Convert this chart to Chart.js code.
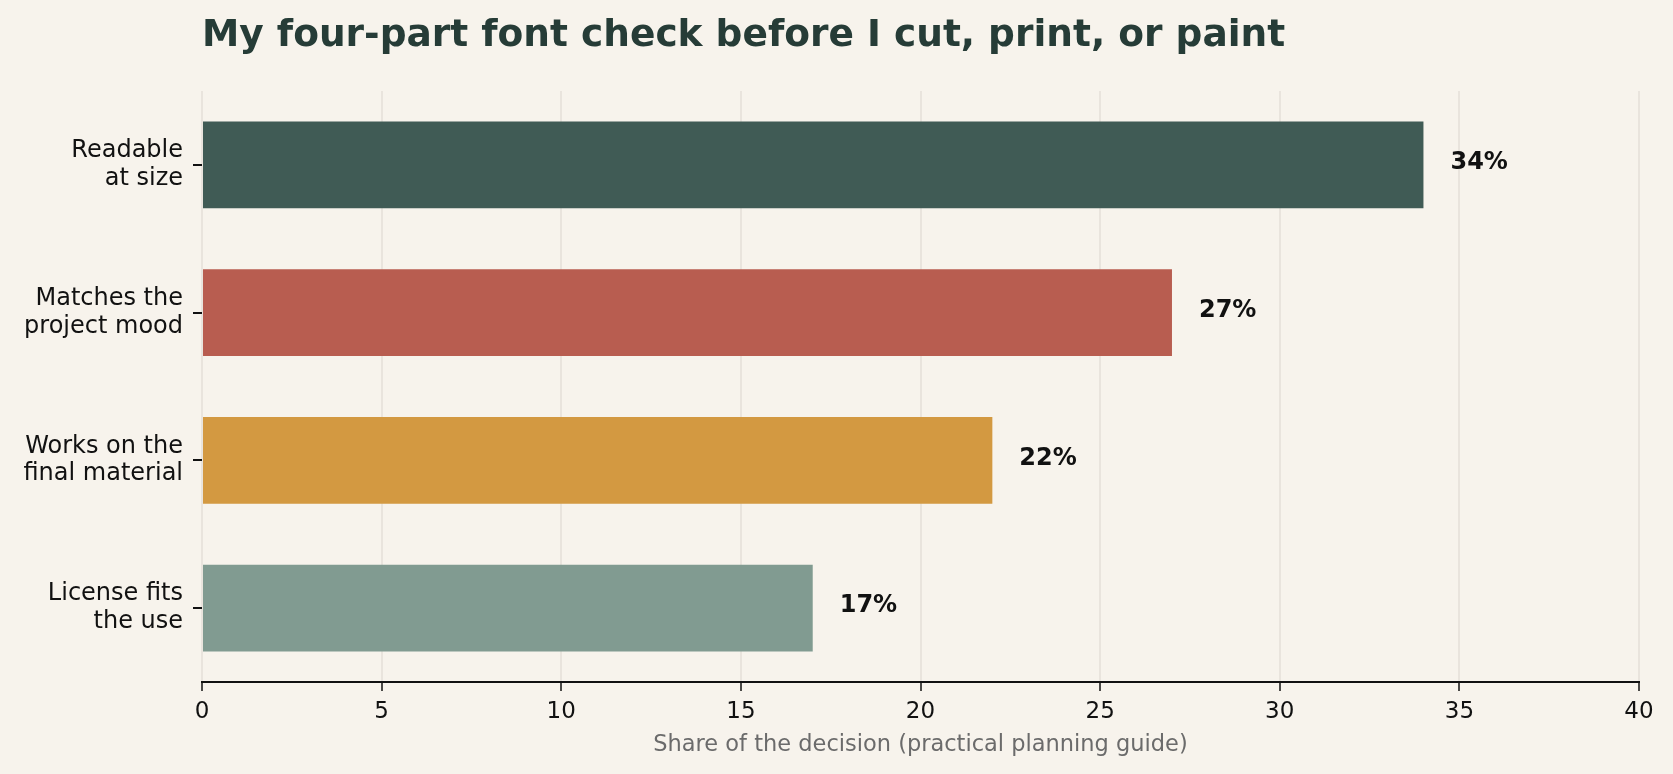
<!DOCTYPE html>
<html>
<head>
<meta charset="utf-8">
<script src="https://cdn.jsdelivr.net/npm/chart.js@4.4.1/dist/chart.umd.min.js"></script>
<style>
  html, body { margin: 0; padding: 0; background: #f7f3ec; }
  #wrap { width: 1673px; height: 774px; }
</style>
</head>
<body>
<div id="wrap"><canvas id="chart" width="1673" height="774"></canvas></div>
<script>
// data
const chartTitle = 'My four-part font check before I cut, print, or paint';
const axisTitle = 'Share of the decision (practical planning guide)';
const categories = [
  'Readable\nat size',
  'Matches the\nproject mood',
  'Works on the\nfinal material',
  'License fits\nthe use'
];
const shares = [34, 27, 22, 17];
const xMin = 0;
const xMax = 40;
const xStep = 5;

const barColors = ['#405b55', '#b85d50', '#d39941', '#819b91'];
const FONT = "'DejaVu Sans', sans-serif";

// title drawn at the left edge of the plot area
const titlePlugin = {
  id: 'leftTitle',
  afterDraw(chart) {
    const c = chart.ctx;
    c.save();
    c.font = 'bold 37.5px ' + FONT;
    c.fillStyle = '#263c37';
    c.textAlign = 'left';
    c.textBaseline = 'alphabetic';
    c.fillText(chartTitle, chart.chartArea.left, 45.5);
    c.restore();
  }
};

// percent labels to the right of each bar
const valueLabels = {
  id: 'valueLabels',
  afterDatasetsDraw(chart) {
    const c = chart.ctx;
    const meta = chart.getDatasetMeta(0);
    c.save();
    c.font = 'bold 24px ' + FONT;
    c.fillStyle = '#111';
    c.textAlign = 'left';
    c.textBaseline = 'middle';
    meta.data.forEach((bar, i) => {
      c.fillText(shares[i] + '%', bar.x + 27, bar.y - 2);
    });
    c.restore();
  }
};

new Chart(document.getElementById('chart'), {
  type: 'bar',
  data: {
    labels: categories.map(l => l.split('\n')),
    datasets: [{
      data: shares,
      backgroundColor: barColors,
      borderWidth: 0,
      categoryPercentage: 1,
      barPercentage: 0.587
    }]
  },
  options: {
    indexAxis: 'y',
    responsive: false,
    devicePixelRatio: 1,
    animation: false,
    layout: { padding: { top: 91, right: 34, bottom: 0, left: 0 } },
    plugins: {
      legend: { display: false },
      title: { display: false },
      tooltip: { enabled: false }
    },
    scales: {
      x: {
        type: 'linear',
        min: xMin,
        max: xMax,
        z: 1,
        afterFit(scale) { scale.height = 92; },
        ticks: {
          stepSize: xStep,
          padding: 7,
          color: '#111',
          font: { family: FONT, size: 23 }
        },
        grid: {
          color: 'rgba(150,145,135,0.14)',
          lineWidth: 2,
          tickLength: 9,
          tickColor: '#111',
          tickWidth: 1.5
        },
        border: { display: true, color: '#111', width: 2 },
        title: {
          display: true,
          text: axisTitle,
          color: '#6b6b6b',
          font: { family: FONT, size: 22.5 },
          padding: { top: 0, bottom: 15 }
        }
      },
      y: {
        type: 'category',
        offset: true,
        afterFit(scale) { scale.width = 202; },
        ticks: {
          padding: 10,
          color: '#111',
          font: { family: FONT, size: 24, lineHeight: 1.155 }
        },
        grid: {
          offset: false,
          drawOnChartArea: false,
          tickLength: 9,
          tickColor: '#111',
          lineWidth: 2
        },
        border: { display: false }
      }
    }
  },
  plugins: [titlePlugin, valueLabels]
});
</script>
</body>
</html>
